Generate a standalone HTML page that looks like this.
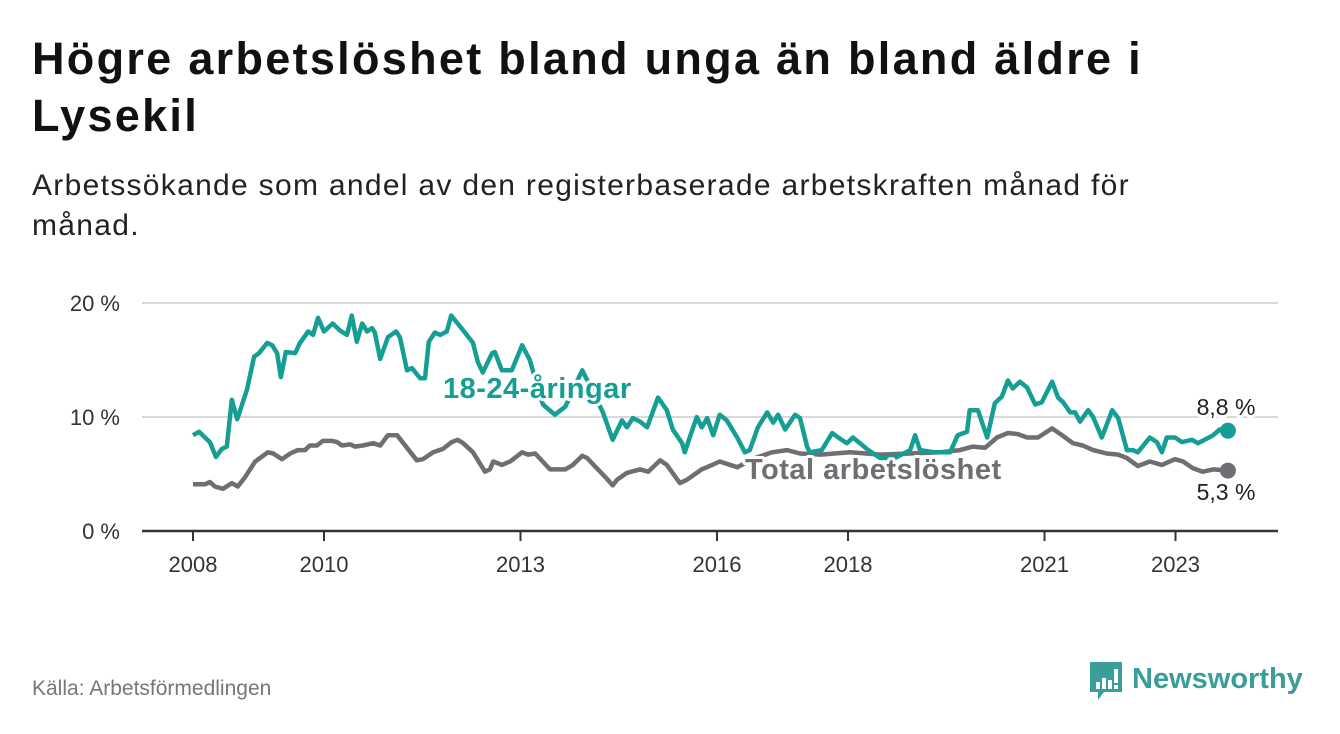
<!DOCTYPE html>
<html><head><meta charset="utf-8"><style>
body{margin:0;background:#fff;width:1340px;height:734px;overflow:hidden;font-family:"Liberation Sans",sans-serif;}
#t{position:absolute;left:32px;top:30px;font-size:45px;font-weight:bold;color:#111;line-height:57px;margin:0;width:1200px;letter-spacing:2.3px}
#s{position:absolute;left:32px;top:166px;font-size:30px;color:#222;line-height:40px;width:1200px;letter-spacing:1.3px}
#src{position:absolute;left:32px;top:677px;font-size:21px;color:#777}
#logo{position:absolute;left:1088px;top:660px}
</style></head><body>
<h1 id="t">Högre arbetslöshet bland unga än bland äldre i Lysekil</h1>
<div id="s">Arbetssökande som andel av den registerbaserade arbetskraften månad för månad.</div>
<svg id="chart" width="1340" height="734" style="position:absolute;left:0;top:0"></svg>
<div id="src">Källa: Arbetsförmedlingen</div>
<div id="logo">
<svg width="230" height="44"><path d="M2 2h32v30H16l-6 8v-8H2z" fill="#3a9e98"/><rect x="8" y="22" width="4" height="7" fill="#fff"/><rect x="14" y="18" width="4" height="11" fill="#fff"/><rect x="20" y="20" width="4" height="9" fill="#fff"/><rect x="26" y="9" width="4" height="14" fill="#fff"/><rect x="26" y="25" width="4" height="4" fill="#fff"/>
<text x="44" y="28" font-family="Liberation Sans" font-weight="bold" font-size="29" fill="#3a9e98">Newsworthy</text></svg></div>
<script>
const monthsY=[0,1.1,3.1,4.2,5.3,6.2,7.1,8.1,9.9,11.2,12.1,13.6,14.5,15.4,16.1,17.0,18.7,19.6,21.1,22.0,22.9,24.0,25.6,26.9,28.2,29.1,30.0,31.0,31.9,32.8,33.3,34.3,35.7,37.2,37.9,39.2,40.1,41.6,42.5,43.2,44.3,45.3,46.5,47.3,49.5,51.3,52.2,53.1,54.8,55.3,56.6,58.4,60.3,61.7,63.0,64.1,66.3,68.2,71.3,73.1,75.1,76.9,78.6,79.5,80.6,81.9,83.2,85.2,86.8,87.9,89.6,90.1,91.0,92.3,93.2,94.2,95.3,96.5,97.8,99.7,101.1,102.0,103.5,105.2,106.3,107.2,108.5,110.3,111.2,112.5,113.0,115.2,117.1,118.2,119.8,120.9,122.2,123.7,125.9,128.6,131.4,132.3,133.2,135.9,138.7,140.1,141.8,142.3,143.8,145.5,146.9,148.2,149.3,150.2,151.5,152.8,154.3,155.5,157.4,158.5,159.4,160.7,161.6,162.5,164.0,164.9,166.5,168.4,169.5,171.1,172.2,173.1,175.3,176.6,177.5,178.4,179.9,181.2,183.0,184.1,186.9,188.1,189.6];
const youth=[8.4,8.7,7.8,6.5,7.2,7.4,11.5,9.8,12.4,15.3,15.6,16.5,16.3,15.6,13.5,15.7,15.6,16.5,17.5,17.2,18.7,17.5,18.2,17.6,17.2,18.9,16.6,18.2,17.5,17.8,17.4,15.1,17.0,17.5,17.0,14.1,14.3,13.4,13.4,16.6,17.4,17.2,17.5,18.9,17.6,16.5,14.8,13.9,15.6,15.7,14.1,14.1,16.3,15.0,12.8,11.1,10.2,10.9,14.1,12.4,10.4,8.0,9.7,9.1,9.9,9.6,9.1,11.7,10.6,8.9,7.7,6.9,8.2,10.0,9.1,9.9,8.4,10.2,9.7,8.2,6.9,7.1,9.1,10.4,9.5,10.2,8.9,10.2,9.9,7.4,6.9,7.1,8.6,8.2,7.7,8.2,7.7,7.1,6.4,6.4,7.1,8.4,7.1,6.9,6.9,8.4,8.7,10.6,10.6,8.2,11.2,11.8,13.2,12.5,13.1,12.6,11.1,11.3,13.1,11.7,11.3,10.4,10.4,9.6,10.6,10.0,8.2,10.6,9.9,7.1,7.1,6.9,8.2,7.8,6.9,8.2,8.2,7.8,8.0,7.7,8.4,8.9,8.8];
const monthsT=[0,2.2,3.1,4.0,5.5,7.1,8.2,9.5,11.4,13.7,14.7,16.3,17.8,19.2,20.5,21.4,22.7,23.8,25.5,26.4,27.3,28.8,29.7,31.1,33.0,34.3,35.7,37.4,41.0,42.1,44.0,45.8,47.4,48.5,49.5,51.3,53.5,54.4,55.0,56.6,58.1,60.3,61.4,62.7,65.4,68.2,69.6,71.3,72.2,74.0,75.8,76.9,77.7,79.5,81.9,83.4,85.6,86.8,89.2,90.5,93.2,95.1,96.5,99.7,103.0,106.1,108.8,111.2,114.9,120.4,125.9,131.4,136.8,140.5,142.9,145.1,147.3,149.3,151.1,152.8,154.8,157.4,159.2,161.2,163.0,164.9,167.4,169.5,171.1,173.1,175.3,177.5,179.9,181.4,183.2,185.0,186.9,189.6];
const total=[4.1,4.1,4.3,3.9,3.7,4.2,3.9,4.7,6.1,6.9,6.8,6.3,6.8,7.1,7.1,7.5,7.5,7.9,7.9,7.8,7.5,7.6,7.4,7.5,7.7,7.5,8.4,8.4,6.2,6.3,6.9,7.2,7.8,8.0,7.7,6.9,5.2,5.4,6.1,5.8,6.1,6.9,6.7,6.8,5.4,5.4,5.8,6.6,6.4,5.5,4.6,4.0,4.5,5.1,5.4,5.2,6.2,5.8,4.2,4.5,5.4,5.8,6.1,5.6,6.4,6.9,7.1,6.8,6.7,6.9,6.7,6.8,6.9,7.1,7.4,7.3,8.2,8.6,8.5,8.2,8.2,9.0,8.4,7.7,7.5,7.1,6.8,6.7,6.4,5.7,6.1,5.8,6.3,6.1,5.5,5.2,5.4,5.3];
const yTicks=[0,10,20];
const yTickLabels=["0 %","10 %","20 %"];
const xTickYears=[2008,2010,2013,2016,2018,2021,2023];

const NS="http://www.w3.org/2000/svg";
const svg=document.getElementById('chart');
const x=m=>193+m*65.5/12;
const xYear=yr=>x((yr-2008)*12);
const y=v=>531-v*11.4;
function el(tag,attrs,txt){const e=document.createElementNS(NS,tag);for(const k in attrs)e.setAttribute(k,attrs[k]);if(txt!==undefined)e.textContent=txt;svg.appendChild(e);return e;}
yTicks.forEach((v,i)=>{
  if(v>0){const g=el('line',{x1:142,x2:1278,y1:y(v),y2:y(v),stroke:'#d9d9d9','stroke-width':2});
  
  }
  const t=el('text',{x:120,y:y(v)+8,'text-anchor':'end','font-size':22,fill:'#333','font-family':'Liberation Sans'},yTickLabels[i]);
  
  
});
const ax=el('line',{x1:142,x2:1278,y1:531,y2:531,stroke:'#333','stroke-width':2.5});


xTickYears.forEach(yr=>{
  const tk=el('line',{x1:xYear(yr),x2:xYear(yr),y1:531,y2:541,stroke:'#333','stroke-width':2});
  
  
  const t=el('text',{x:xYear(yr),y:572,'text-anchor':'middle','font-size':22,fill:'#333','font-family':'Liberation Sans'},String(yr));
  
  
});
function path(ms,vs){return ms.map((m,i)=>(i?'L':'M')+x(m).toFixed(1)+' '+y(vs[i]).toFixed(1)).join(' ');}
const lt=el('path',{d:path(monthsT,total),fill:'none',stroke:'#6e6e73','stroke-width':4.5,'stroke-linejoin':'round'});


const ly=el('path',{d:path(monthsY,youth),fill:'none',stroke:'#159e93','stroke-width':4.5,'stroke-linejoin':'round'});


const dy=el('circle',{cx:x(monthsY[monthsY.length-1]),cy:y(youth[youth.length-1]),r:8,fill:'#159e93'});


const dt=el('circle',{cx:x(monthsT[monthsT.length-1]),cy:y(total[total.length-1]),r:8,fill:'#6e6e73'});


const halo={stroke:'#fff','stroke-width':6,'paint-order':'stroke','stroke-linejoin':'round'};
const l1=el('text',Object.assign({x:443,y:398,'font-size':29,'font-weight':'bold',fill:'#159e93','font-family':'Liberation Sans','letter-spacing':0.5},halo),'18-24-åringar');


const l2=el('text',Object.assign({x:745,y:479,'font-size':29,'font-weight':'bold',fill:'#6e6e73','font-family':'Liberation Sans','letter-spacing':0.5},halo),'Total arbetslöshet');


const v1=el('text',Object.assign({x:1226,y:415,'text-anchor':'middle','font-size':23,fill:'#222','font-family':'Liberation Sans'},halo),youth[youth.length-1].toFixed(1).replace('.',',')+' %');


const v2=el('text',Object.assign({x:1226,y:500,'text-anchor':'middle','font-size':23,fill:'#222','font-family':'Liberation Sans'},halo),total[total.length-1].toFixed(1).replace('.',',')+' %');


</script>
</body></html>
